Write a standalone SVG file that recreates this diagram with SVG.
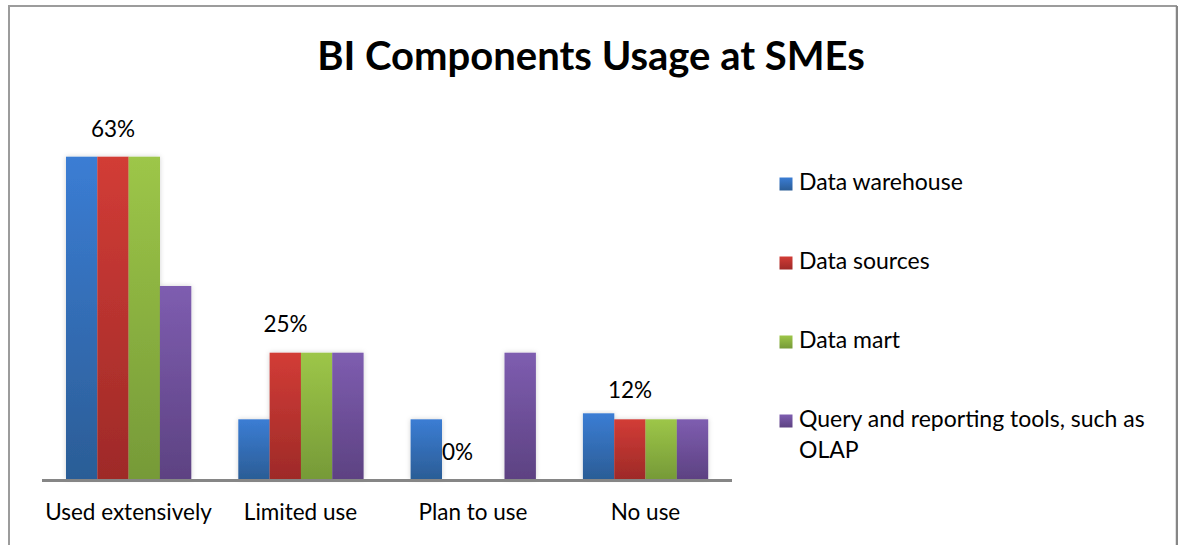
<svg xmlns="http://www.w3.org/2000/svg" width="1178" height="545" viewBox="0 0 1178 545">
  <style>
    .title { font-family: Lato, "Open Sans", sans-serif; font-weight: bold; font-size: 40px; fill: #000; }
    .lbl { font-family: Lato, "Open Sans", sans-serif; font-size: 22.5px; fill: #000; }
    .leg { font-size: 23px; }
    .mid { text-anchor: middle; }
    .axis { stroke: #868686; stroke-width: 3; fill: none; }
  </style>
  <defs>
    <linearGradient id="gBlue" x1="0" y1="0" x2="0" y2="1">
      <stop offset="0" stop-color="#3b7dd4"/>
      <stop offset="1" stop-color="#2b5d96"/>
    </linearGradient>
    <linearGradient id="gRed" x1="0" y1="0" x2="0" y2="1">
      <stop offset="0" stop-color="#d23c36"/>
      <stop offset="1" stop-color="#9e2a28"/>
    </linearGradient>
    <linearGradient id="gGreen" x1="0" y1="0" x2="0" y2="1">
      <stop offset="0" stop-color="#9dc648"/>
      <stop offset="1" stop-color="#769a38"/>
    </linearGradient>
    <linearGradient id="gPurple" x1="0" y1="0" x2="0" y2="1">
      <stop offset="0" stop-color="#7e5db0"/>
      <stop offset="1" stop-color="#5d4282"/>
    </linearGradient>
    <filter id="soft" x="-20%" y="-5%" width="140%" height="110%">
      <feDropShadow dx="0" dy="0" stdDeviation="2.5" flood-color="#000" flood-opacity="0.18"/>
    </filter>
  </defs>

  <rect width="1178" height="545" fill="#fff"/>

  <!-- chart frame -->
  <path d="M9,545 V6 H1177" fill="none" stroke="#9c9c9c" stroke-width="2"/>
  <path d="M1177,6 V545" fill="none" stroke="#868686" stroke-width="2.5"/>

  <text class="title mid" x="591" y="70">BI Components Usage at SMEs</text>

  <!-- bars, one group per category -->
  <g id="used-extensively" filter="url(#soft)">
    <rect x="66" y="156.7" width="31.4" height="322.3" fill="url(#gBlue)"/>
    <rect x="97.3" y="156.7" width="31.4" height="322.3" fill="url(#gRed)"/>
    <rect x="128.6" y="156.7" width="31.4" height="322.3" fill="url(#gGreen)"/>
    <rect x="159.9" y="286" width="31.4" height="193" fill="url(#gPurple)"/>
  </g>
  <g id="limited-use" filter="url(#soft)">
    <rect x="238.3" y="419.3" width="31.4" height="59.7" fill="url(#gBlue)"/>
    <rect x="269.6" y="352.7" width="31.4" height="126.3" fill="url(#gRed)"/>
    <rect x="300.9" y="352.7" width="31.4" height="126.3" fill="url(#gGreen)"/>
    <rect x="332.2" y="352.7" width="31.4" height="126.3" fill="url(#gPurple)"/>
  </g>
  <g id="plan-to-use" filter="url(#soft)">
    <rect x="410.6" y="419.3" width="31.4" height="59.7" fill="url(#gBlue)"/>
    <rect x="504.5" y="352.7" width="31.4" height="126.3" fill="url(#gPurple)"/>
  </g>
  <g id="no-use" filter="url(#soft)">
    <rect x="582.9" y="413.3" width="31.4" height="65.7" fill="url(#gBlue)"/>
    <rect x="614.2" y="419.3" width="31.4" height="59.7" fill="url(#gRed)"/>
    <rect x="645.5" y="419.3" width="31.4" height="59.7" fill="url(#gGreen)"/>
    <rect x="676.8" y="419.3" width="31.4" height="59.7" fill="url(#gPurple)"/>
  </g>

  <!-- category axis -->
  <g id="axis">
    <line class="axis" x1="42" y1="480.5" x2="732" y2="480.5"/>
  </g>

  <!-- value labels (Data sources series) -->
  <g id="value-labels">
    <text class="lbl mid" x="113" y="137">63%</text>
    <text class="lbl mid" x="285.5" y="332">25%</text>
    <text class="lbl mid" x="457.5" y="460">0%</text>
    <text class="lbl mid" x="630" y="398">12%</text>
  </g>

  <!-- category labels -->
  <g id="category-labels">
    <text class="lbl mid" x="128.5" y="520">Used extensively</text>
    <text class="lbl mid" x="300.5" y="520">Limited use</text>
    <text class="lbl mid" x="473" y="520">Plan to use</text>
    <text class="lbl mid" x="645.5" y="520">No use</text>
  </g>

  <!-- legend -->
  <g id="legend">
    <g id="legend-warehouse">
      <rect x="779.5" y="177.5" width="13" height="13" fill="url(#gBlue)"/>
      <text class="lbl leg" x="799" y="190">Data warehouse</text>
    </g>
    <g id="legend-sources">
      <rect x="779.5" y="256.5" width="13" height="13" fill="url(#gRed)"/>
      <text class="lbl leg" x="799" y="269">Data sources</text>
    </g>
    <g id="legend-mart">
      <rect x="779.5" y="335.5" width="13" height="13" fill="url(#gGreen)"/>
      <text class="lbl leg" x="799" y="348">Data mart</text>
    </g>
    <g id="legend-query">
      <rect x="779.5" y="414.5" width="13" height="13" fill="url(#gPurple)"/>
      <text class="lbl leg" x="799" y="427">Query and reporting tools, such as</text>
      <text class="lbl leg" x="799" y="458">OLAP</text>
    </g>
  </g>
</svg>
